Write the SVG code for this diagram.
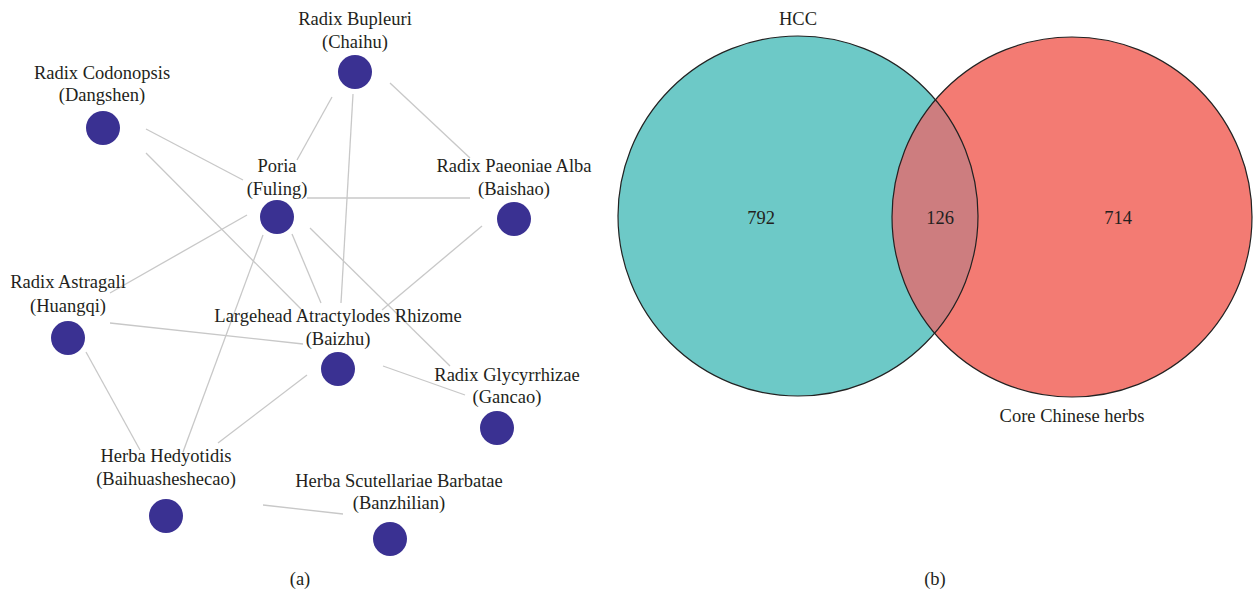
<svg xmlns="http://www.w3.org/2000/svg" width="1253" height="593" viewBox="0 0 1253 593">
<style>
text{font-family:"Liberation Serif","DejaVu Serif",serif;font-size:18.5px;fill:#231F20;text-anchor:middle}
.node circle{fill:#3A3192}
#edges line{stroke:#C8C8C8;stroke-width:1.3}
.outline{fill:none;stroke:#222;stroke-width:1.2}
</style>
<defs>
<clipPath id="clipL"><circle cx="798" cy="216" r="180"/></clipPath>
</defs>
<rect width="1253" height="593" fill="#fff"/>
<g id="edges">
<line x1="146" y1="129" x2="243" y2="180"/>
<line x1="146" y1="153" x2="301" y2="309"/>
<line x1="332" y1="97" x2="297" y2="160"/>
<line x1="353" y1="94" x2="341" y2="303"/>
<line x1="390" y1="83" x2="470" y2="158"/>
<line x1="307" y1="198" x2="470" y2="198"/>
<line x1="247" y1="215" x2="110" y2="293"/>
<line x1="292" y1="234" x2="321" y2="303"/>
<line x1="310" y1="228" x2="450" y2="366"/>
<line x1="263" y1="235" x2="183" y2="452"/>
<line x1="482" y1="226" x2="382" y2="310"/>
<line x1="110" y1="323" x2="303" y2="344"/>
<line x1="86" y1="352" x2="140" y2="450"/>
<line x1="307" y1="375" x2="218" y2="443"/>
<line x1="383" y1="366" x2="465" y2="395"/>
<line x1="263" y1="505" x2="343" y2="514"/>
</g>
<g id="chaihu" class="node"><circle cx="355" cy="72" r="17"/><text x="355" y="25">Radix Bupleuri</text><text x="355" y="48">(Chaihu)</text></g>
<g id="dangshen" class="node"><circle cx="103" cy="128" r="17"/><text x="102" y="79">Radix Codonopsis</text><text x="102" y="101">(Dangshen)</text></g>
<g id="fuling" class="node"><circle cx="277" cy="217" r="17"/><text x="277" y="172">Poria</text><text x="277" y="195">(Fuling)</text></g>
<g id="baishao" class="node"><circle cx="514" cy="219" r="17"/><text x="514" y="172">Radix Paeoniae Alba</text><text x="514" y="195">(Baishao)</text></g>
<g id="huangqi" class="node"><circle cx="68" cy="338" r="17"/><text x="68" y="288">Radix Astragali</text><text x="68" y="312">(Huangqi)</text></g>
<g id="baizhu" class="node"><circle cx="338" cy="369" r="17"/><text x="338" y="322">Largehead Atractylodes Rhizome</text><text x="338" y="345">(Baizhu)</text></g>
<g id="gancao" class="node"><circle cx="497" cy="428" r="17"/><text x="507" y="381">Radix Glycyrrhizae</text><text x="507" y="403">(Gancao)</text></g>
<g id="baihuasheshecao" class="node"><circle cx="166" cy="516" r="17"/><text x="166" y="462">Herba Hedyotidis</text><text x="166" y="485">(Baihuasheshecao)</text></g>
<g id="banzhilian" class="node"><circle cx="390" cy="539" r="17"/><text x="399" y="487">Herba Scutellariae Barbatae</text><text x="399" y="509">(Banzhilian)</text></g>
<text x="300" y="585">(a)</text>
<g id="venn">
<circle cx="798" cy="216" r="180" fill="#6DC9C7"/>
<circle cx="1072" cy="217" r="180" fill="#F37B73"/>
<circle cx="1072" cy="217" r="180" fill="#CD7D7F" clip-path="url(#clipL)"/>
<circle class="outline" cx="798" cy="216" r="180"/>
<circle class="outline" cx="1072" cy="217" r="180"/>
<text x="798" y="25">HCC</text>
<text x="761" y="224">792</text>
<text x="940" y="224">126</text>
<text x="1118" y="224">714</text>
<text x="1072" y="422">Core Chinese herbs</text>
</g>
<text x="935" y="585">(b)</text>
</svg>
